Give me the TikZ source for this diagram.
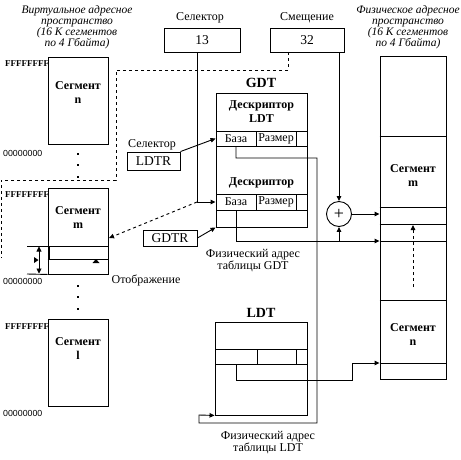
\documentclass[tikz,border=0pt]{standalone}
\usepackage{fontspec}
\setmainfont{Liberation Serif}
\newfontfamily\sansf{Liberation Sans}
\usetikzlibrary{arrows.meta}
\tikzset{
  ln/.style={line width=0.9pt},
  box/.style={draw, line width=0.9pt, inner sep=0pt},
  cell/.style={draw, line width=0.9pt, inner sep=0pt, font=\fontsize{12}{13}\selectfont},
  arr/.style={-{Triangle[length=5pt,width=4.5pt]}},
  lbl/.style={font=\fontsize{12}{12}\selectfont, inner sep=0pt, align=center},
  reg/.style={font=\fontsize{13.5}{14}\selectfont},
  boldlbl/.style={font=\fontsize{12}{14}\selectfont\bfseries, inner sep=0pt, align=center},
  tbl/.style={font=\fontsize{14}{14}\selectfont\bfseries, inner sep=0pt},
  hexlbl/.style={font=\fontsize{9}{9}\selectfont\bfseries, inner sep=0pt, anchor=west},
  zerolbl/.style={font=\fontsize{8.8}{9}\selectfont\sansf, inner sep=0pt, anchor=west},
  ttl/.style={font=\fontsize{11.5}{11}\selectfont\itshape, inner sep=0pt, align=center},
}
\begin{document}
\begin{tikzpicture}[x=1pt,y=-1pt]
\useasboundingbox[fill=white] (0,0) rectangle (461,459);

% titles
\node[ttl] (lt) at (77,27) {Виртуальное адресное\\пространство\\(16 К сегментов\\по 4 Гбайта)};
\node[ttl] (rt) at (408,27) {Физическое адресное\\пространство\\(16 К сегментов\\по 4 Гбайта)};

% selector / offset
\node[lbl] (sellbl) at (200,18) {Селектор};
\node[lbl] (offlbl) at (307,18) {Смещение};
\node[box, reg, minimum width=76pt, minimum height=24pt] (sel) at (202,40) {13};
\node[box, reg, minimum width=74pt, minimum height=24pt] (off) at (307,40) {32};

% left segments
\node[box, minimum width=60pt, minimum height=87pt] (segn) at (78,100.5) {};
\node[boldlbl] (segnl) at (78,93) {Сегмент\\n};
\node[box, minimum width=60pt, minimum height=86pt] (segm) at (78,231) {};
\node[boldlbl] (segml) at (78,218) {Сегмент\\m};
\node[box, minimum width=60pt, minimum height=87pt] (segl) at (78,362.5) {};
\node[boldlbl] (segll) at (78,349) {Сегмент\\l};
\draw[ln] (segm.west |- 0,246) -- (segm.east |- 0,246);
\draw[ln] (segm.west |- 0,259) -- (segm.east |- 0,259);
\draw[line width=2pt] (49,246) -- (49,259);

\node[hexlbl] (fn) at (5,64) {FFFFFFFF};
\node[hexlbl] (fm) at (5,195) {FFFFFFFF};
\node[hexlbl] (fl) at (5,327) {FFFFFFFF};
\node[zerolbl] (zn) at (3,153) {00000000};
\node[zerolbl] (zm) at (3,281) {00000000};
\node[zerolbl] (zl) at (3,413) {00000000};

\foreach \yy in {154,165,177,286,297,309} {\fill (77,\yy-1) rectangle (79.2,\yy+1.2);}

% dimension marks
\draw[ln] (27,246) -- (segm.west |- 0,246);
\draw[ln] (27,274) -- (segm.south west);
\draw[ln,{Triangle[length=5pt,width=5pt]}-{Triangle[length=5pt,width=5pt]}] (39,246.5) -- (39,273.5);
\fill (34,257) -- (38.5,260) -- (34,263) -- cycle;
\fill (92.5,263) -- (96,259) -- (99.5,263) -- cycle;
\node[lbl] (disp) at (146,280) {Отображение};

% GDT
\node[tbl] (gdtlbl) at (261,83) {GDT};
\node[box, minimum width=91pt, minimum height=134pt] (gdt) at (261.5,160) {};
\node[boldlbl] (d1l) at (261.5,111.5) {Дескриптор\\LDT};
\node[cell, minimum width=40pt, minimum height=15pt] (b1) at (236,138.5) {База};
\node[cell, minimum width=40pt, minimum height=15pt] (r1) at (276,138.5) {Размер};
\node[cell, minimum width=11pt, minimum height=15pt] (e1) at (301.5,138.5) {};
\node[boldlbl] (d2l) at (261.5,183) {Дескриптор};
\node[cell, minimum width=40pt, minimum height=16pt] (b2) at (236,202) {База};
\node[cell, minimum width=40pt, minimum height=16pt] (r2) at (276,202) {Размер};
\node[cell, minimum width=11pt, minimum height=16pt] (e2) at (301.5,202) {};
\node[lbl] (gdtaddr) at (253,261) {Физический адрес\\таблицы GDT};

% registers
\node[lbl] (sel2) at (152,145) {Селектор};
\node[box, reg, minimum width=53pt, minimum height=18pt] (ldtr) at (153.5,161) {LDTR};
\node[box, reg, minimum width=54pt, minimum height=16pt] (gdtr) at (170,238) {GDTR};

% LDT
\node[tbl] (ldtlbl) at (261,313) {LDT};
\node[box, minimum width=92pt, minimum height=93pt] (ldt) at (261,368.5) {};
\node[cell, minimum width=42pt, minimum height=15pt] (c1) at (236,356.5) {};
\node[cell, minimum width=39pt, minimum height=15pt] (c2) at (276.5,356.5) {};
\node[cell, minimum width=11pt, minimum height=15pt] (c3) at (301.5,356.5) {};
\node[lbl] (ldtaddr) at (268,442.5) {Физический адрес\\таблицы LDT};

% physical space
\node[box, minimum width=66pt, minimum height=323pt] (phys) at (413,217.5) {};
\foreach \yy in {136,207,224,241,300,363} {\draw[ln] (phys.west |- 0,\yy) -- (phys.east |- 0,\yy);}
\node[boldlbl] (pm) at (413,175.5) {Сегмент\\m};
\node[boldlbl] (pn) at (413,334.5) {Сегмент\\n};

% adder
\node[circle, draw, line width=0.9pt, minimum size=25pt, inner sep=0pt, font=\fontsize{18}{18}\selectfont] (plus) at (339,214) {+};

% connectors
\coordinate (selturn) at (197,202);
\draw[ln,arr] (sel.south -| selturn) -- (selturn) -- (b2.west);
\coordinate (mtip) at (109,238);
\draw[ln,dashed,arr] (selturn) -- (mtip);
\coordinate (dtop) at (288,52);
\coordinate (dend) at (1,258);
\draw[ln,dashed] (dtop) -- (288,70) -- (116,70) -- (116,180) -- (1,180) -- (dend);
\draw[ln,arr] (off.south -| plus) -- (plus.north);
\draw[ln,arr] (plus.east) -- (plus.east -| phys.west);
\coordinate (gj) at (339,241);
\draw[ln,arr] (b2.south) -- (b2.south |- gj) -- (gj -| phys.west);
\draw[ln,arr] (gj) -- (plus.south);
\draw[ln,arr] (ldtr.north east) -- (b1.west);
\draw[ln,arr] (gdtr.east) -- (gdt.south west);
\draw[ln,arr] (b1.south) -- (b1.south |- 0,158) -- (317,158) -- (317,423) -- (199,423) -- (199,415) -- (ldt.south west);
\draw[ln,arr] (c1.south) -- (c1.south |- 0,380) -- (352,380) -- (352,363) -- (phys.west |- 0,363);
\coordinate (pd) at (413,287);
\draw[ln,dashed,arr] (pd) -- (413,225);
\end{tikzpicture}
\end{document}
